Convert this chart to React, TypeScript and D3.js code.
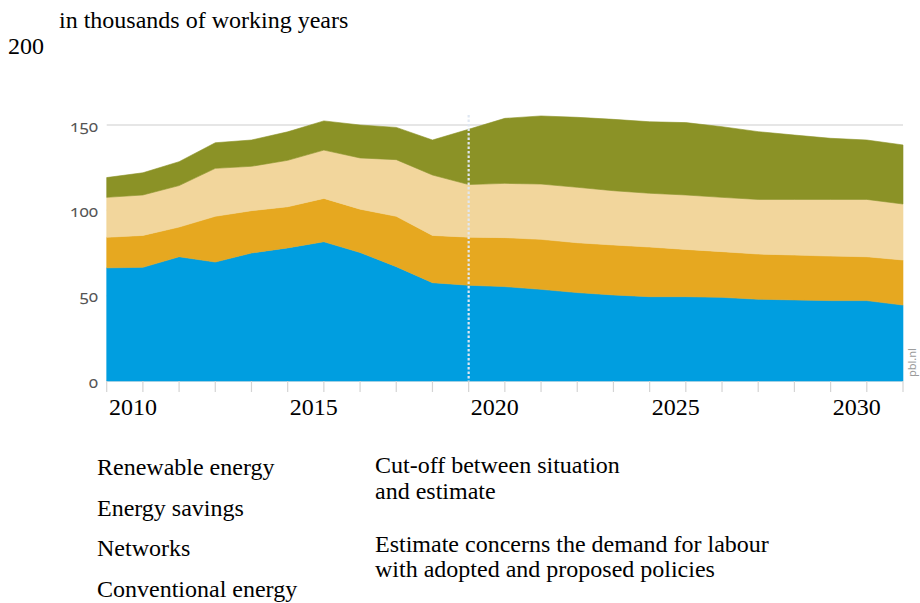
import React from "react";
import * as d3 from "d3";

const years = [2009, 2010, 2011, 2012, 2013, 2014, 2015, 2016, 2017, 2018, 2019, 2020, 2021, 2022, 2023, 2024, 2025, 2026, 2027, 2028, 2029, 2030, 2031];
const conventional = [66.3, 66.6, 72.8, 69.7, 75.0, 78.0, 81.6, 75.3, 67.0, 57.6, 56.1, 55.3, 53.7, 51.8, 50.4, 49.4, 49.4, 49.0, 47.9, 47.5, 47.1, 47.1, 44.5];
const networks = [17.9, 18.7, 17.4, 26.8, 24.8, 24.1, 25.4, 25.4, 29.5, 27.7, 28.2, 28.7, 29.3, 29.2, 29.3, 29.1, 27.7, 26.8, 26.5, 26.3, 26.1, 25.7, 26.4];
const savings = [23.4, 23.7, 24.3, 28.1, 26.0, 27.2, 28.3, 30.0, 33.2, 35.4, 30.8, 31.8, 32.4, 32.5, 31.8, 31.5, 31.9, 31.8, 32.0, 32.6, 33.2, 33.6, 32.8];
const renewable = [11.6, 13.0, 14.0, 15.0, 15.4, 16.7, 17.1, 19.3, 18.9, 20.5, 32.4, 38.1, 39.9, 41.0, 41.8, 41.9, 42.4, 41.4, 39.7, 37.7, 35.8, 34.8, 34.6];

const seriesKeys = ["conventional", "networks", "savings", "renewable"];
const seriesColors = ["#009EE0", "#E6A820", "#F2D69C", "#8B9226"];
const yTicks = [0, 50, 100, 150];
const xTickLabels = [2010, 2015, 2020, 2025, 2030];
const cutoffYear = 2019;
const legendLabels = ["Renewable energy", "Energy savings", "Networks", "Conventional energy"];
const noteLines = ["Cut-off between situation", "and estimate", "Estimate concerns the demand for labour", "with adopted and proposed policies"];
const unitLabel = "in thousands of working years";
const topTickLabel = "200";
const sourceLabel = "pbl.nl";

const serif = "'Liberation Serif', 'Times New Roman', serif";
const sans = "'Noto Sans', 'Open Sans', sans-serif";

export default function App() {
  const W = 920;
  const H = 603;
  const x = d3.scaleLinear().domain([years[0], years[years.length - 1]]).range([106.7, 903]);
  const y = d3.scaleLinear().domain([0, 150]).range([381, 125]);

  const data = years.map((yr, i) => ({
    year: yr,
    conventional: conventional[i],
    networks: networks[i],
    savings: savings[i],
    renewable: renewable[i],
  }));
  const stacked = d3.stack<any>().keys(seriesKeys)(data);
  const area = d3
    .area<any>()
    .x((d) => x(d.data.year))
    .y0((d) => y(d[0]))
    .y1((d) => y(d[1]))
    .curve(d3.curveLinear);

  const legendBaselines = [475, 515.5, 556, 597];
  const noteBaselines = [473, 499, 552, 577];

  return (
    <svg
      width={W}
      height={H}
      style={{ position: "absolute", left: 0, top: 0, background: "#fff", overflow: "hidden" }}
    >
      <text x={59} y={28} fontFamily={serif} fontSize={24} fill="#000">
        {unitLabel}
      </text>
      <text x={8} y={54} fontFamily={serif} fontSize={24} fill="#000">
        {topTickLabel}
      </text>

      {yTicks.map((t) => (
        <line
          key={"g" + t}
          x1={x.range()[0]}
          x2={x.range()[1]}
          y1={y(t)}
          y2={y(t)}
          stroke="#dedede"
          strokeWidth={1.5}
        />
      ))}

      {stacked.map((s, i) => (
        <path key={s.key} d={area(s as any) || ""} fill={seriesColors[i]} stroke={seriesColors[i]} strokeWidth={0.6} />
      ))}

      {years.map((yr) => (
        <line key={"t" + yr} x1={x(yr)} x2={x(yr)} y1={y(0)} y2={y(0) + 11} stroke="#d4d4d4" strokeWidth={1.2} />
      ))}

      <line
        x1={x(cutoffYear)}
        x2={x(cutoffYear)}
        y1={115}
        y2={y(0)}
        stroke="#dfe7f2"
        strokeWidth={2.2}
        strokeDasharray="2.5,2"
      />

      {yTicks.map((t) => (
        <text
          key={"yl" + t}
          x={98}
          y={y(t) + 6.5}
          textAnchor="end"
          fontFamily={sans}
          fontSize={17}
          fill="#555"
          style={{ fontVariantNumeric: "oldstyle-nums", fontFeatureSettings: "'onum' 1" }}
        >
          {t}
        </text>
      ))}

      {xTickLabels.map((yr) => (
        <text key={"xl" + yr} x={x(yr) - 10} y={415} textAnchor="middle" fontFamily={serif} fontSize={24} fill="#000">
          {yr}
        </text>
      ))}

      <text
        transform={`translate(916,377) rotate(-90)`}
        fontFamily={sans}
        fontSize={11}
        fill="#9a9a9a"
      >
        {sourceLabel}
      </text>

      {legendLabels.map((l, i) => (
        <text key={l} x={97} y={legendBaselines[i]} fontFamily={serif} fontSize={24} fill="#000">
          {l}
        </text>
      ))}
      {noteLines.map((l, i) => (
        <text key={l} x={375} y={noteBaselines[i]} fontFamily={serif} fontSize={24} fill="#000">
          {l}
        </text>
      ))}
    </svg>
  );
}
